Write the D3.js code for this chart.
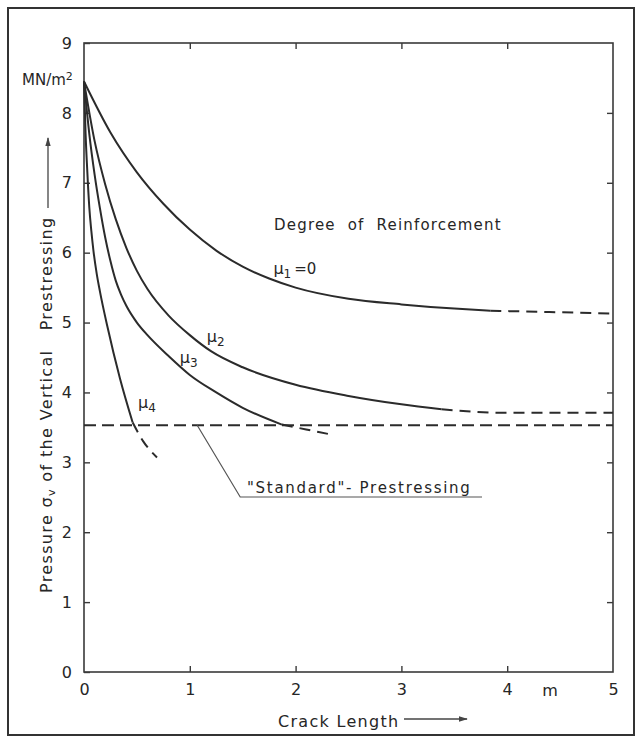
<!DOCTYPE html>
<html>
<head>
<meta charset="utf-8">
<script src="https://cdn.jsdelivr.net/npm/d3@7"></script>
<style>
  html, body { margin: 0; padding: 0; background: #fff; }
  svg { display: block; }
  text { font-family: "DejaVu Sans", sans-serif; fill: #262626; }
</style>
</head>
<body>
<svg id="chart" width="641" height="743"></svg>
<script>
// ---- data ----
const xTicks = [0, 1, 2, 3, 4, 5];
const yTicks = [0, 1, 2, 3, 4, 5, 6, 7, 8, 9];

// [crack length m, pressure MN/m2]
const mu1Solid = [[0, 8.45], [0.25, 7.72], [0.5, 7.15], [0.75, 6.70], [1.0, 6.33], [1.25, 6.03], [1.5, 5.80], [1.75, 5.63], [2.0, 5.50], [2.5, 5.34], [3.0, 5.26], [3.5, 5.20], [3.84, 5.17]];
const mu1Dash  = [[3.84, 5.17], [4.4, 5.15], [5.0, 5.13]];
const mu2Solid = [[0, 8.45], [0.1, 7.6], [0.2, 6.98], [0.3, 6.48], [0.4, 6.07], [0.5, 5.74], [0.6, 5.48], [0.8, 5.10], [1.0, 4.82], [1.2, 4.59], [1.5, 4.36], [2.0, 4.11], [2.5, 3.95], [3.0, 3.83], [3.38, 3.76]];
const mu2Dash  = [[3.38, 3.76], [3.93, 3.71], [5.0, 3.71]];
const mu3Solid = [[0, 8.45], [0.05, 7.7], [0.1, 7.12], [0.15, 6.64], [0.2, 6.22], [0.25, 5.88], [0.3, 5.6], [0.35, 5.4], [0.4, 5.24], [0.5, 5.0], [0.6, 4.82], [0.8, 4.52], [1.0, 4.25], [1.25, 4.0], [1.5, 3.78], [1.87, 3.54]];
const mu3Dash  = [[1.87, 3.54], [2.10, 3.47], [2.33, 3.40]];
const mu4Solid = [[0, 8.45], [0.015, 7.7], [0.03, 7.2], [0.05, 6.65], [0.07, 6.3], [0.09, 6.02], [0.12, 5.7], [0.15, 5.45], [0.22, 4.95], [0.34, 4.2], [0.46, 3.57]];
const mu4Dash  = [[0.46, 3.57], [0.56, 3.30], [0.69, 3.07]];
const standardLevel = 3.53;
const standardLine = [[0, standardLevel], [5, standardLevel]];

const seriesLabels = [
  { name: "μ", sub: "1", tail: "=0", at: [1.79, 5.69] },
  { name: "μ", sub: "2", tail: "",   at: [1.16, 4.72] },
  { name: "μ", sub: "3", tail: "",   at: [0.905, 4.42] },
  { name: "μ", sub: "4", tail: "",   at: [0.51, 3.78] }
];

// ---- layout ----
const svg = d3.select("#chart");
const x = d3.scaleLinear().domain([0, 5]).range([84, 613]);
const y = d3.scaleLinear().domain([0, 9]).range([672, 43]);
const ink = "#2b2b2b";

// outer border
svg.append("rect").attr("x", 8).attr("y", 8).attr("width", 626).attr("height", 727)
  .attr("fill", "none").attr("stroke", "#333").attr("stroke-width", 2);

// plot frame
svg.append("rect").attr("x", x(0)).attr("y", y(9)).attr("width", x(5) - x(0)).attr("height", y(0) - y(9))
  .attr("fill", "none").attr("stroke", "#3a3a3a").attr("stroke-width", 1.6);

function styleAxis(g) {
  g.select(".domain").remove();
  g.selectAll(".tick line").attr("stroke", "#3a3a3a").attr("stroke-width", 1.4);
  g.selectAll(".tick text").style("font-family", '"DejaVu Sans", sans-serif').style("font-size", "16px").attr("fill", "#262626");
}

svg.append("g").attr("transform", `translate(0,${y(0)})`)
  .call(d3.axisBottom(x).tickValues(xTicks.slice(1, 5)).tickSize(-6).tickFormat(""))
  .call(styleAxis);
svg.append("g").attr("transform", `translate(0,${y(0)})`)
  .call(d3.axisBottom(x).tickValues(xTicks).tickSize(0).tickPadding(12).tickFormat(d3.format("d")))
  .call(styleAxis);
svg.append("g").attr("transform", `translate(0,${y(9)})`)
  .call(d3.axisTop(x).tickValues(xTicks.slice(1, 5)).tickSize(-6).tickFormat(""))
  .call(styleAxis);
svg.append("g").attr("transform", `translate(${x(0)},0)`)
  .call(d3.axisLeft(y).tickValues(yTicks).tickSize(-6).tickPadding(12).tickFormat(d3.format("d")))
  .call(styleAxis);
svg.append("g").attr("transform", `translate(${x(5)},0)`)
  .call(d3.axisRight(y).tickValues(yTicks.slice(1, 9)).tickSize(-6).tickFormat(""))
  .call(styleAxis);

// units
svg.append("text").attr("x", 550).attr("y", 696).attr("text-anchor", "middle")
  .style("font-size", "16px").text("m");
const unit = svg.append("text").attr("x", 22).attr("y", 85).style("font-size", "15px");
unit.append("tspan").text("MN/m");
unit.append("tspan").attr("dy", -5).style("font-size", "11px").text("2");

// ---- curves ----
const line = d3.line().x(d => x(d[0])).y(d => y(d[1])).curve(d3.curveMonotoneX);
const plot = svg.append("g");

[mu1Solid, mu2Solid, mu3Solid, mu4Solid].forEach(s => {
  plot.append("path").attr("d", line(s)).attr("fill", "none")
    .attr("stroke", ink).attr("stroke-width", 2);
});
[mu1Dash, mu2Dash, mu3Dash, mu4Dash].forEach(s => {
  plot.append("path").attr("d", line(s)).attr("fill", "none")
    .attr("stroke", ink).attr("stroke-width", 2).attr("stroke-dasharray", "11,7");
});
plot.append("path").attr("d", d3.line().x(d => x(d[0])).y(d => y(d[1]))(standardLine))
  .attr("fill", "none").attr("stroke", ink).attr("stroke-width", 2).attr("stroke-dasharray", "12,6");

// series labels
seriesLabels.forEach(l => {
  const t = svg.append("text").attr("x", x(l.at[0])).attr("y", y(l.at[1])).style("font-size", "16px");
  t.append("tspan").text(l.name);
  t.append("tspan").attr("dy", 4).style("font-size", "12px").text(l.sub);
  if (l.tail) t.append("tspan").attr("dy", -4).attr("dx", 3).style("font-size", "15px").text(l.tail);
});

svg.append("text").attr("x", 274).attr("y", 230).style("font-size", "15px")
  .style("letter-spacing", "1.2px").style("white-space", "pre")
  .text("Degree  of  Reinforcement");

// standard prestressing annotation
const leaderStart = [1.07, standardLevel];
const lx0 = x(leaderStart[0]), ly0 = y(leaderStart[1]);
svg.append("polyline")
  .attr("points", `${lx0},${ly0} ${lx0 + 43},497 482,497`)
  .attr("fill", "none").attr("stroke", "#555").attr("stroke-width", 1.2);
svg.append("text").attr("x", 247).attr("y", 493).style("font-size", "15px")
  .style("letter-spacing", "1.7px")
  .text("\"Standard\"- Prestressing");

// y axis title
const yt = svg.append("text").attr("transform", "translate(52,593) rotate(-90)")
  .style("font-size", "16px").style("white-space", "pre").style("letter-spacing", "1.35px");
yt.append("tspan").text("Pressure σ");
yt.append("tspan").attr("dy", 3).style("font-size", "11px").text("v");
yt.append("tspan").attr("dy", -3).text(" of the Vertical   Prestressing");

// arrows
svg.append("defs").append("marker").attr("id", "arr").attr("viewBox", "0 0 10 10")
  .attr("refX", 9).attr("refY", 5).attr("markerWidth", 9).attr("markerHeight", 9)
  .attr("markerUnits", "userSpaceOnUse").attr("orient", "auto")
  .append("path").attr("d", "M0,2 L10,5 L0,8 Z").attr("fill", "#444");
svg.append("line").attr("x1", 48).attr("y1", 208).attr("x2", 48).attr("y2", 138)
  .attr("stroke", "#444").attr("stroke-width", 1.3).attr("marker-end", "url(#arr)");

svg.append("text").attr("x", 278).attr("y", 727).style("font-size", "16px")
  .style("letter-spacing", "1.3px").text("Crack Length");
svg.append("line").attr("x1", 404).attr("y1", 719).attr("x2", 467).attr("y2", 719)
  .attr("stroke", "#444").attr("stroke-width", 1.3).attr("marker-end", "url(#arr)");
</script>
</body>
</html>
